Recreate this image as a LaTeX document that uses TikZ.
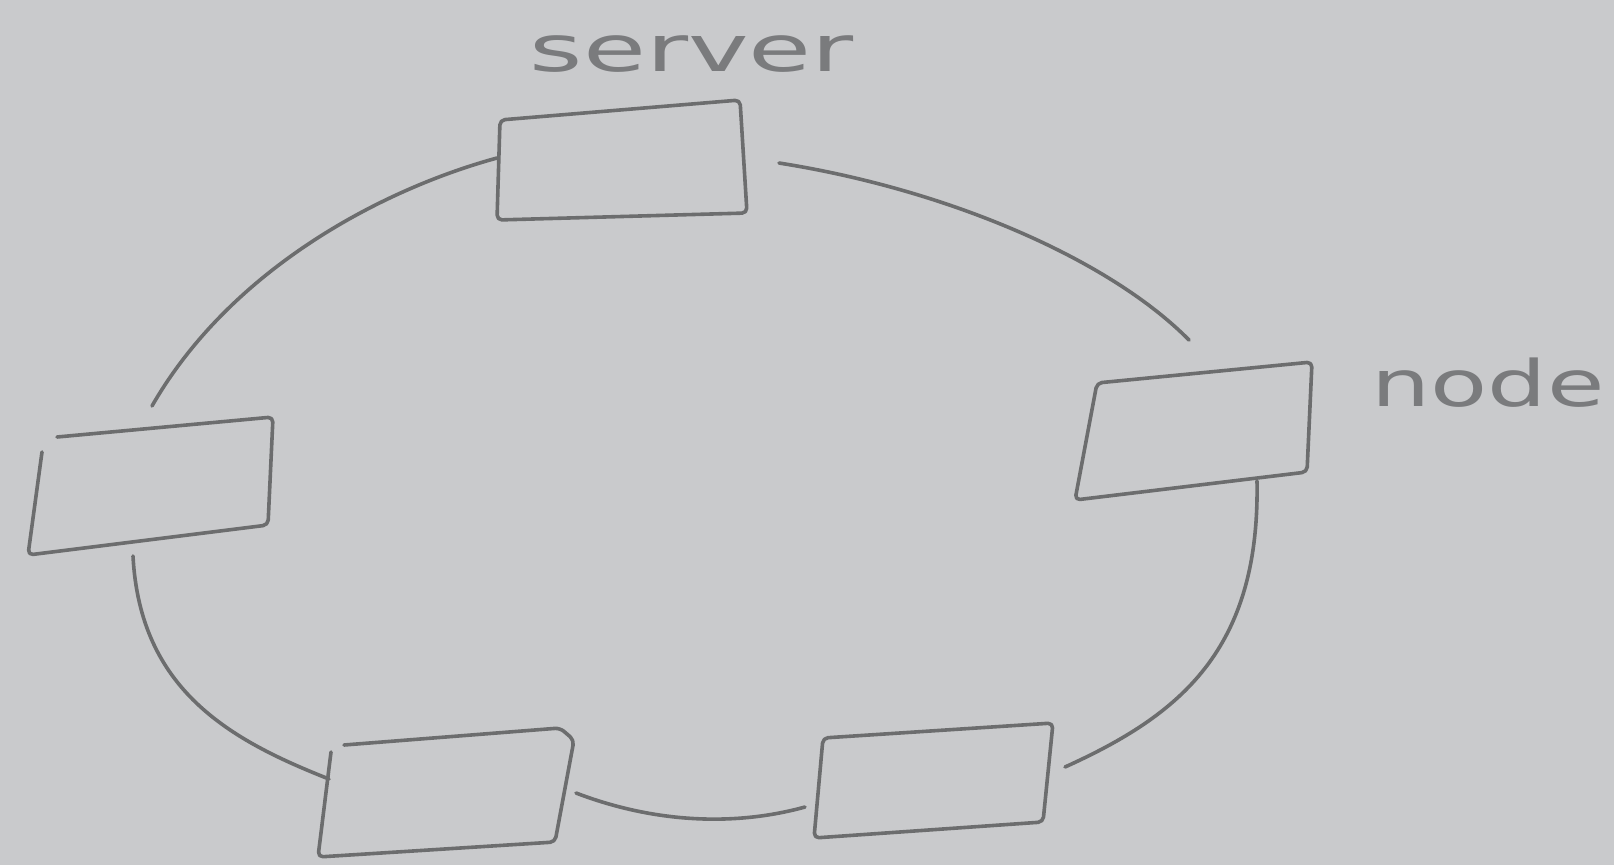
\documentclass[tikz,border=0pt]{standalone}
\usepackage{fontspec}
\newfontfamily\labelfont{DejaVu Sans}
\definecolor{paper}{HTML}{C9CACC}
\definecolor{ink}{HTML}{6C6D6E}
\definecolor{pencil}{HTML}{7A7B7D}
\begin{document}
\begin{tikzpicture}[x=1pt,y=-1pt,
  pen/.style={draw=ink, line width=3.6pt, line cap=round, line join=round},
  station/.style={pen, rounded corners=5pt},
  wire/.style={pen},
  caption/.style={text=pencil, font=\labelfont\fontsize{64}{64}\selectfont, inner sep=0pt}]

% sheet
\fill[paper] (0,0) rectangle (1614,865);
\useasboundingbox (0,0) rectangle (1614,865);

% ---- stations (hand-drawn quadrilaterals) ----
% server (top)
\coordinate (srvA) at (500,120);
\coordinate (srvB) at (740,100);
\coordinate (srvC) at (747,213);
\coordinate (srvD) at (497,220);
\draw[station] (srvA) -- (srvB) -- (srvC) -- (srvD) -- cycle;

% right station
\coordinate (rgtA) at (1097,383);
\coordinate (rgtB) at (1312,362);
\coordinate (rgtC) at (1307,472);
\coordinate (rgtD) at (1075,500);
\draw[station] (rgtA) -- (rgtB) -- (rgtC) -- (rgtD) -- cycle;

% left station (open at the top-left corner)
\coordinate (lftA) at (57,437);
\coordinate (lftB) at (273,417);
\coordinate (lftC) at (268,525);
\coordinate (lftD) at (28,555);
\coordinate (lftE) at (42,452);
\draw[station] (lftE) -- (lftD) -- (lftC) -- (lftB) -- (lftA);

% bottom-left station
\coordinate (blA) at (344,745);
\coordinate (blB) at (560,728);
\coordinate (blB2) at (574,740);
\coordinate (blC) at (555,842);
\coordinate (blD) at (318,857);
\coordinate (blE) at (331,752);
\draw[station] (blA) -- (blB) -- (blB2) -- (blC) -- (blD) -- (blE);

% bottom-right station
\coordinate (brA) at (823,738);
\coordinate (brB) at (1053,723);
\coordinate (brC) at (1043,822);
\coordinate (brD) at (814,838);
\draw[station] (brA) -- (brB) -- (brC) -- (brD) -- cycle;

% ---- ring links ----
\coordinate (srvW) at (497,158);
\coordinate (lftN) at (152,406);
\coordinate (srvE) at (779,163);
\coordinate (rgtN) at (1189,340);
\coordinate (rgtS) at (1257,481);
\coordinate (brE)  at (1065,767);
\coordinate (lftS) at (133,556);
\coordinate (blW)  at (329,779);
\coordinate (blEa) at (576,793);
\coordinate (brW)  at (805,807);

\draw[wire] (srvW) .. controls (380,190) and (230,270) .. (lftN);
\draw[wire] (srvE) .. controls (950,190) and (1110,260) .. (rgtN);
\draw[wire] (rgtS) .. controls (1260,650) and (1180,715) .. (brE);
\draw[wire] (lftS) .. controls (140,690) and (230,740) .. (blW);
\draw[wire] (blEa) .. controls (660,825) and (740,825) .. (brW);

% ---- labels ----
\node[caption, xscale=1.6] (serverlabel) at (692,54) {server};
\node[caption, xscale=1.46] (nodelabel) at (1488,383) {node};
\end{tikzpicture}
\end{document}
